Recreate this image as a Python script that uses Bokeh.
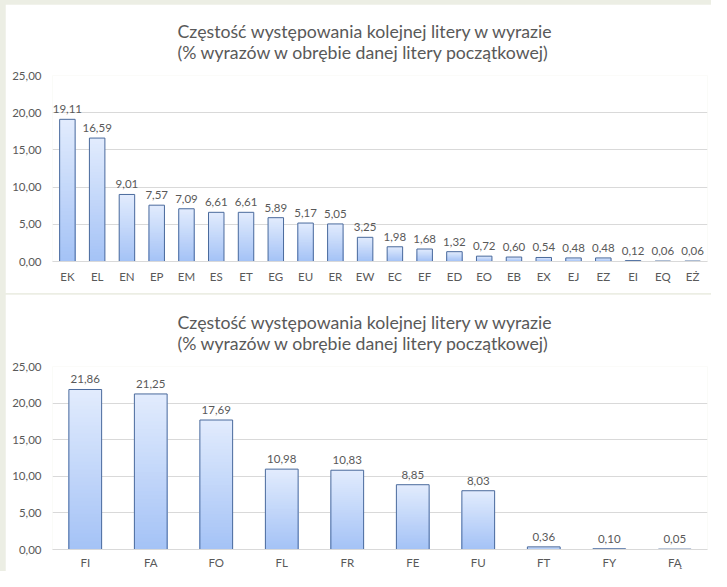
from bokeh.plotting import figure
from bokeh.layouts import column
from bokeh.models import Range1d, FixedTicker, CustomJSTickFormatter, ColumnDataSource, Title
from bokeh.core.properties import value
from bokeh.embed import file_html
from bokeh.resources import INLINE

title_text = "Częstość występowania kolejnej litery w wyrazie\n(% wyrazów w obrębie danej litery początkowej)"

cats1 = ["EK", "EL", "EN", "EP", "EM", "ES", "ET", "EG", "EU", "ER", "EW",
         "EC", "EF", "ED", "EO", "EB", "EX", "EJ", "EZ", "EI", "EQ", "EŻ"]
vals1 = [19.11, 16.59, 9.01, 7.57, 7.09, 6.61, 6.61, 5.89, 5.17, 5.05, 3.25,
         1.98, 1.68, 1.32, 0.72, 0.60, 0.54, 0.48, 0.48, 0.12, 0.06, 0.06]

cats2 = ["FI", "FA", "FO", "FL", "FR", "FE", "FU", "FT", "FY", "FĄ"]
vals2 = [21.86, 21.25, 17.69, 10.98, 10.83, 8.85, 8.03, 0.36, 0.10, 0.05]

y_ticks = [0, 5, 10, 15, 20, 25]

FONT = "Lato"
TXT = "#595959"
GRID = "#d9d9d9"
TOP_C = (226, 236, 253)
BOT_C = (164, 194, 246)
EDGE = "#4a6a9c"


def mix(f):
    r = tuple(int(round(BOT_C[i] + (TOP_C[i] - BOT_C[i]) * f)) for i in range(3))
    return "#%02x%02x%02x" % r


def make_chart(cats, vals, bar_w, h, top_border, bottom_border, margin, x_standoff):
    p = figure(x_range=cats, y_range=Range1d(0, 25), width=706, height=h,
               output_backend="svg", toolbar_location=None,
               min_border_left=47, min_border_right=4,
               min_border_top=top_border, min_border_bottom=bottom_border,
               background_fill_color="white", border_fill_color="white",
               outline_line_color=None, margin=margin)
    p.add_layout(Title(text=title_text, align="left", offset=125,
                       text_font=FONT, text_font_size="17.7px",
                       text_font_style="normal", text_color=TXT,
                       text_line_height=1.0, standoff=26), "above")

    # gradient fill built from stacked, shrinking bars
    N = 40
    xs, tops, cols = [], [], []
    for k in range(N):
        f = 1 - k / N
        c = mix(f - 0.5 / N)
        for cat, v in zip(cats, vals):
            xs.append(cat)
            tops.append(v * f)
            cols.append(c)
    p.vbar(x=xs, top=tops, bottom=0, width=bar_w, fill_color=cols, line_color=None)
    p.vbar(x=cats, top=vals, bottom=0, width=bar_w, fill_color=None,
           line_color=EDGE, line_width=1)

    labels = [f"{v:.2f}".replace(".", ",") for v in vals]
    src = ColumnDataSource(dict(x=cats, y=vals, t=labels))
    p.text(x="x", y="y", text="t", source=src, text_align="center",
           text_baseline="bottom", y_offset=-6, text_font=value(FONT),
           text_font_size="11.5px", text_color=TXT)

    p.yaxis.ticker = FixedTicker(ticks=y_ticks)
    p.yaxis.formatter = CustomJSTickFormatter(code="return tick.toFixed(2).replace('.', ',');")
    p.yaxis.axis_line_color = None
    p.yaxis.major_tick_line_color = None
    p.yaxis.minor_tick_line_color = None
    p.yaxis.major_tick_out = 0
    p.yaxis.major_tick_in = 0
    p.yaxis.minor_tick_out = 0
    p.yaxis.major_label_standoff = 11
    p.yaxis.major_label_text_font = FONT
    p.yaxis.major_label_text_font_size = "11.5px"
    p.yaxis.major_label_text_color = TXT

    p.xaxis.axis_line_color = GRID
    p.xaxis.major_tick_line_color = None
    p.xaxis.minor_tick_line_color = None
    p.xaxis.major_tick_out = 0
    p.xaxis.major_tick_in = 0
    p.xaxis.minor_tick_out = 0
    p.xaxis.major_label_standoff = x_standoff
    p.xaxis.major_label_text_font = FONT
    p.xaxis.major_label_text_font_size = "11.5px"
    p.xaxis.major_label_text_color = TXT

    p.xgrid.grid_line_color = None
    p.ygrid.grid_line_color = GRID
    p.x_range.range_padding = 0
    return p


p1 = make_chart(cats1, vals1, 0.52, 289, 71, 32, (4, 0, 0, 5), 8)
p2 = make_chart(cats2, vals2, 0.5, 277, 72, 21, (1, 0, 0, 5), 6)

layout = column(p1, p2, spacing=0, width=711, height=571,
                styles={"background-color": "#eceee4"})

open("out.html", "w").write(file_html(layout, INLINE))
